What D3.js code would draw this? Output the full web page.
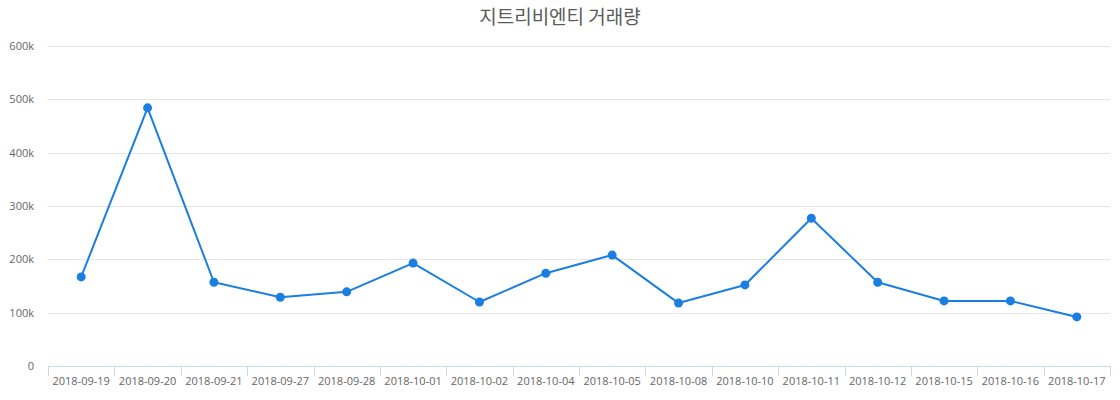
<!DOCTYPE html>
<html>
<head>
<meta charset="utf-8">
<script src="https://cdn.jsdelivr.net/npm/d3@7"></script>
<style>
  body { margin: 0; background: #fff; }
  svg { display: block; font-family: 'Open Sans', 'Noto Sans', sans-serif; }
</style>
</head>
<body>
<script>
// chart data
const dates = ['2018-09-19', '2018-09-20', '2018-09-21', '2018-09-27', '2018-09-28', '2018-10-01',
  '2018-10-02', '2018-10-04', '2018-10-05', '2018-10-08', '2018-10-10', '2018-10-11',
  '2018-10-12', '2018-10-15', '2018-10-16', '2018-10-17']
const volumes = [167000, 484000, 157000, 129000, 139000, 193000, 120000, 174000,
  208000, 118000, 152000, 277000, 157000, 122000, 122000, 92000]
const yTicks = [0, 100000, 200000, 300000, 400000, 500000, 600000]
const title = '지트리비엔티 거래량'

const width = 1120
const height = 400
const plotLeft = 48
const plotRight = 1110
const plotTop = 46
const plotBottom = 366
const lineColor = '#1a7fe0'

const svg = d3.select('body')
  .append('svg')
  .attr('width', width)
  .attr('height', height)

const xScale = d3.scaleBand()
  .domain(dates)
  .range([plotLeft, plotRight])

const yScale = d3.scaleLinear()
  .domain([0, 600000])
  .range([plotBottom, plotTop])

// gridlines
svg.append('g')
  .selectAll('line')
  .data(yTicks.slice(1))
  .enter()
  .append('line')
  .attr('x1', plotLeft)
  .attr('x2', plotRight)
  .attr('y1', (d) => Math.round(yScale(d)) + 0.5)
  .attr('y2', (d) => Math.round(yScale(d)) + 0.5)
  .attr('stroke', '#e6e6e6')

// y labels
svg.append('g')
  .selectAll('text')
  .data(yTicks)
  .enter()
  .append('text')
  .attr('x', 34)
  .attr('y', (d) => yScale(d) + 4)
  .attr('text-anchor', 'end')
  .attr('font-size', '11px')
  .attr('fill', '#666')
  .text((d) => d === 0 ? '0' : (d / 1000) + 'k')

// x axis
const xAxis = d3.axisBottom(xScale)
  .tickSize(0)
  .tickPadding(11)

const gx = svg.append('g')
  .attr('transform', 'translate(0,' + (plotBottom + 0.5) + ')')
  .call(xAxis)
gx.select('.domain').remove()
gx.selectAll('text')
  .attr('font-size', '11px')
  .attr('fill', '#666')
  .attr('font-family', "'Open Sans', 'Noto Sans', sans-serif")

svg.append('line')
  .attr('x1', plotLeft)
  .attr('x2', plotRight)
  .attr('y1', plotBottom + 0.5)
  .attr('y2', plotBottom + 0.5)
  .attr('stroke', '#ccd6eb')

// tick marks at band edges
const edges = dates.map((d) => xScale(d)).concat([xScale(dates[dates.length - 1]) + xScale.bandwidth()])
svg.append('g')
  .selectAll('line')
  .data(edges)
  .enter()
  .append('line')
  .attr('x1', (d) => Math.round(d) + 0.5)
  .attr('x2', (d) => Math.round(d) + 0.5)
  .attr('y1', plotBottom)
  .attr('y2', plotBottom + 10)
  .attr('stroke', '#ccd6eb')

// line and markers
const line = d3.line()
  .x((d, i) => xScale(dates[i]) + xScale.bandwidth() / 2)
  .y((d) => yScale(d))

svg.append('path')
  .datum(volumes)
  .attr('d', line)
  .attr('fill', 'none')
  .attr('stroke', lineColor)
  .attr('stroke-width', 2)
  .attr('stroke-linejoin', 'round')

svg.selectAll('circle')
  .data(volumes)
  .enter()
  .append('circle')
  .attr('cx', (d, i) => xScale(dates[i]) + xScale.bandwidth() / 2)
  .attr('cy', (d) => yScale(d))
  .attr('r', 4.5)
  .attr('fill', lineColor)

svg.append('text')
  .attr('x', width / 2)
  .attr('y', 24)
  .attr('text-anchor', 'middle')
  .attr('font-size', '19px')
  .attr('font-family', "'Noto Sans CJK KR', sans-serif")
  .attr('fill', '#5a5a5a')
  .text(title)
</script>
</body>
</html>
